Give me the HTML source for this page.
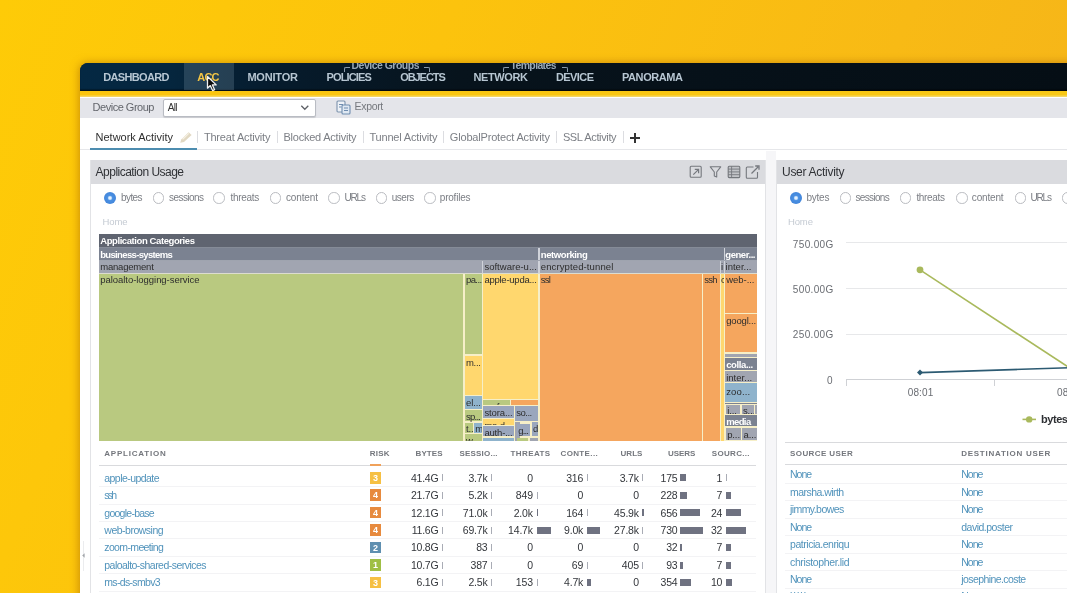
<!DOCTYPE html>
<html><head><meta charset="utf-8"><title>ACC</title>
<style>
html,body{margin:0;padding:0}
body{width:1067px;height:593px;overflow:hidden;position:relative;font-family:"Liberation Sans",sans-serif;
background:linear-gradient(112deg,#fecb07 0%,#fcc30d 35%,#f8ba15 70%,#f4b21c 100%);}
#win{position:absolute;left:80px;top:63px;width:1000px;height:540px;background:linear-gradient(180deg,#05263e 0,#05263e 27px,#fbc50e 27px,#fbc50e 34px,#fff 34px);border-top-left-radius:8px;overflow:hidden;
box-shadow:-1px 0px 9px rgba(160,95,0,.55);}
#page{position:absolute;left:0;top:0;width:1100px;height:620px;overflow:hidden;filter:blur(0.55px)}
.a{position:absolute}
.t{position:absolute;white-space:pre}
.cell{position:absolute;overflow:hidden}
.rad{position:absolute;width:9.4px;height:9.4px;border:1.1px solid #b9bbc0;border-radius:50%;background:#fff;box-sizing:content-box}
.rad.on{border:none;width:12px;height:12px;background:radial-gradient(circle,#e4f2ff 0 1.2px,#4a90e2 2.6px,#3d7fd6 100%)}
.hl{position:absolute;height:1px;background:#e3e4e7}
.bar{position:absolute;height:7px;background:#6f7281}
.bdg{position:absolute;width:11.5px;height:11.5px;color:#fff;font-size:9px;line-height:12px;text-align:center;font-weight:700}
</style></head><body>
<div id="win"></div>
<div id="page">
<div class="a" style="left:80px;top:63px;width:1015px;height:27.7px;border-top-left-radius:8px;background:linear-gradient(90deg,#042843 0px,#05263e 90px,#061b2c 200px,#07131c 380px,#050e15 987px);box-shadow:inset 0 -1.5px 1px rgba(0,0,0,.55)"></div>
<div class="a" style="left:184.00px;top:63.00px;width:50.00px;height:26.50px;background:rgba(125,150,170,.27);"></div>
<div class="a" style="left:80px;top:90.7px;width:1015px;height:6.6px;background:linear-gradient(180deg,rgba(255,255,255,0) 60%,rgba(240,235,200,.55) 100%),linear-gradient(90deg,#fbc50e,#f8c816)"></div>
<div class="a" style="left:344px;top:66.5px;width:5px;height:4px;border-left:1.3px solid #8a9aaa;border-top:1.3px solid #8a9aaa;border-top-left-radius:2px"></div>
<div class="a" style="left:423.5px;top:66.5px;width:5px;height:4px;border-right:1.3px solid #8a9aaa;border-top:1.3px solid #8a9aaa;border-top-right-radius:2px"></div>
<div class="a" style="left:502.5px;top:66.5px;width:5px;height:4px;border-left:1.3px solid #8a9aaa;border-top:1.3px solid #8a9aaa;border-top-left-radius:2px"></div>
<div class="a" style="left:562px;top:66.5px;width:5px;height:4px;border-right:1.3px solid #8a9aaa;border-top:1.3px solid #8a9aaa;border-top-right-radius:2px"></div>
<div class="a" style="left:80.00px;top:97.50px;width:1015.00px;height:20.20px;background:#e4e5ea;"></div>
<div class="a" style="left:162.5px;top:99px;width:151.5px;height:16px;background:#fff;border:1px solid #b9bcc3;border-radius:2px;box-sizing:content-box;box-shadow:0 1px 1px rgba(0,0,0,.12)"></div>
<svg class="a" style="left:299px;top:103px" width="12" height="10" viewBox="0 0 12 10"><path d="M2.3 2.8 L5.8 6.3 L9.3 2.8" fill="none" stroke="#5e6167" stroke-width="1.3"/></svg>
<svg class="a" style="left:335.5px;top:99.5px" width="15" height="15" viewBox="0 0 15 15"><rect x="1" y="1" width="8" height="11" rx="1" fill="#eef2f7" stroke="#7d93ad" stroke-width="1.1"/><rect x="6" y="5" width="8" height="9" rx="1" fill="#dfe8f2" stroke="#6f8db0" stroke-width="1.1"/><path d="M3 4.5h4M3 7h2.5M8 8h4M8 10.5h4" stroke="#6f8db0" stroke-width="1"/></svg>
<div class="a" style="left:80.00px;top:149.30px;width:1015.00px;height:1.00px;background:#e6e7ea;"></div>
<div class="a" style="left:90.00px;top:148.00px;width:106.60px;height:2.40px;background:#4d8db0;"></div>
<div class="a" style="left:196.90px;top:131.30px;width:1.00px;height:11.90px;background:#dcdde1;"></div>
<div class="a" style="left:276.70px;top:131.30px;width:1.00px;height:11.90px;background:#dcdde1;"></div>
<div class="a" style="left:362.80px;top:131.30px;width:1.00px;height:11.90px;background:#dcdde1;"></div>
<div class="a" style="left:443.30px;top:131.30px;width:1.00px;height:11.90px;background:#dcdde1;"></div>
<div class="a" style="left:556.10px;top:131.30px;width:1.00px;height:11.90px;background:#dcdde1;"></div>
<div class="a" style="left:623.00px;top:131.30px;width:1.00px;height:11.90px;background:#dcdde1;"></div>
<div class="a" style="left:629.50px;top:137.20px;width:10.50px;height:1.50px;background:#333;"></div>
<div class="a" style="left:634.00px;top:132.80px;width:1.50px;height:10.20px;background:#333;"></div>
<svg class="a" style="left:178.5px;top:130.5px" width="14" height="13" viewBox="0 0 14 13"><path d="M1.2 11.8 L2.2 8.4 L9.6 1.2 L12.6 4 L5 11 Z" fill="#e1d8c2"/><path d="M3.6 8.2 L9.8 2.4" stroke="#f6f1e4" stroke-width="1.2"/></svg>
<div class="a" style="left:90.00px;top:160.00px;width:675.70px;height:23.50px;background:#dadbdf;"></div>
<div class="a" style="left:90.00px;top:160.00px;width:1.00px;height:455.00px;background:#e2e3e6;"></div>
<div class="a" style="left:764.70px;top:160.00px;width:1.00px;height:455.00px;background:#e2e3e6;"></div>
<svg class="a" style="left:688.5px;top:165px" width="14" height="14" viewBox="0 0 14 14"><rect x="1.2" y="1.2" width="11" height="11" rx="1" fill="none" stroke="#75787e" stroke-width="1.1"/><path d="M4.3 9.7 L9.4 4.6 M5.8 4.4 H9.6 V8.2" fill="none" stroke="#75787e" stroke-width="1.2"/></svg>
<svg class="a" style="left:708.5px;top:165px" width="13" height="14" viewBox="0 0 13 14"><path d="M1.3 1.8 H11.7 L7.7 7 V12 L5.3 11 V7 Z" fill="none" stroke="#75787e" stroke-width="1.1" stroke-linejoin="round"/></svg>
<svg class="a" style="left:727px;top:165px" width="14" height="14" viewBox="0 0 14 14"><rect x="1.2" y="1.2" width="11.6" height="11.4" rx="1" fill="none" stroke="#75787e" stroke-width="1.1"/><rect x="1.2" y="1.2" width="11.6" height="11.4" fill="rgba(110,113,120,.22)"/><path d="M4.6 1.2V12.6 M1.2 4.1H12.8 M1.2 6.9H12.8 M1.2 9.7H12.8" stroke="#75787e" stroke-width="0.9"/></svg>
<svg class="a" style="left:745px;top:163.5px" width="16" height="16" viewBox="0 0 16 16"><path d="M8.5 3 H2.3 Q1.3 3 1.3 4 V13.2 Q1.3 14.2 2.3 14.2 H11.5 Q12.5 14.2 12.5 13.2 V8" fill="none" stroke="#75787e" stroke-width="1.1"/><path d="M6.5 9.5 L13 3 M10.2 2 H14 V5.8" fill="none" stroke="#75787e" stroke-width="1.3"/></svg>
<div class="rad on" style="left:104.0px;top:192.1px"></div>
<div class="rad" style="left:152.8px;top:192.3px"></div>
<div class="rad" style="left:213.4px;top:192.3px"></div>
<div class="rad" style="left:269.8px;top:192.3px"></div>
<div class="rad" style="left:328.2px;top:192.3px"></div>
<div class="rad" style="left:375.7px;top:192.3px"></div>
<div class="rad" style="left:424.2px;top:192.3px"></div>
<div class="a" style="left:99.00px;top:234.30px;width:658.00px;height:38.90px;background:#d0d3da;"></div>
<div class="a" style="left:99.00px;top:273.20px;width:658.00px;height:168.10px;background:#f6efc8;"></div>
<div class="cell" style="left:99.00px;top:234.30px;width:658.00px;height:12.70px;background:#5f6470"></div>
<div class="cell" style="left:99.00px;top:247.90px;width:439.20px;height:11.70px;background:#7b8291"></div>
<div class="cell" style="left:539.60px;top:247.90px;width:184.20px;height:11.70px;background:#7b8291"></div>
<div class="cell" style="left:725.00px;top:247.90px;width:32.00px;height:11.70px;background:#7b8291"></div>
<div class="cell" style="left:99.00px;top:260.50px;width:382.80px;height:12.10px;background:#a1a5b1"></div>
<div class="cell" style="left:483.20px;top:260.50px;width:55.00px;height:12.10px;background:#a1a5b1"></div>
<div class="cell" style="left:539.60px;top:260.50px;width:180.00px;height:12.10px;background:#a1a5b1"></div>
<div class="cell" style="left:720.80px;top:260.50px;width:3.00px;height:12.10px;background:#a1a5b1"><span style="position:absolute;left:0.2px;top:-0.4px;font-size:9.5px;line-height:14px;color:#2d2d2d;font-weight:400;white-space:pre;letter-spacing:-0.12px">i</span></div>
<div class="cell" style="left:725.00px;top:260.50px;width:32.00px;height:12.10px;background:#a1a5b1"></div>
<div class="a" style="left:99.00px;top:247.00px;width:658.00px;height:0.90px;background:#858b97;"></div>
<div class="a" style="left:99.00px;top:259.60px;width:658.00px;height:0.90px;background:#9fa4af;"></div>
<div class="a" style="left:99.00px;top:272.60px;width:658.00px;height:1.00px;background:#dcdccf;"></div>
<div class="cell" style="left:99.00px;top:273.60px;width:364.40px;height:167.70px;background:#b9c980"></div>
<div class="cell" style="left:464.80px;top:273.60px;width:17.00px;height:80.80px;background:#b9c980"></div>
<div class="cell" style="left:464.80px;top:355.80px;width:17.00px;height:38.80px;background:#ffd76e"></div>
<div class="cell" style="left:464.80px;top:396.00px;width:17.00px;height:12.60px;background:#8fb3cc"></div>
<div class="cell" style="left:464.80px;top:410.00px;width:17.00px;height:11.20px;background:#b9c980"></div>
<div class="cell" style="left:464.80px;top:422.60px;width:7.80px;height:10.40px;background:#b9c980"><span style="position:absolute;left:1.2px;top:-0.4px;font-size:9.5px;line-height:14px;color:#2d2d2d;font-weight:400;white-space:pre;letter-spacing:-0.12px">t..</span></div>
<div class="cell" style="left:474.00px;top:422.60px;width:7.80px;height:10.40px;background:#8fb3cc"><span style="position:absolute;left:1.2px;top:-0.4px;font-size:9.5px;line-height:14px;color:#2d2d2d;font-weight:400;white-space:pre;letter-spacing:-0.12px">m</span></div>
<div class="cell" style="left:464.80px;top:434.40px;width:17.00px;height:6.90px;background:#b9c980"><span style="position:absolute;left:1.2px;top:-0.4px;font-size:9.5px;line-height:14px;color:#2d2d2d;font-weight:400;white-space:pre;letter-spacing:-0.12px">w...</span></div>
<div class="cell" style="left:483.20px;top:273.60px;width:55.00px;height:125.00px;background:#ffd76e"></div>
<div class="cell" style="left:483.20px;top:400.00px;width:26.80px;height:5.00px;background:#b9c980"><span style="position:absolute;left:1.2px;top:-0.4px;font-size:9.5px;line-height:14px;color:#2d2d2d;font-weight:400;white-space:pre;letter-spacing:-0.12px">msfe</span></div>
<div class="cell" style="left:511.40px;top:400.00px;width:26.80px;height:5.00px;background:#f5a65e"><span style="position:absolute;left:1.2px;top:-0.4px;font-size:9.5px;line-height:14px;color:#2d2d2d;font-weight:400;white-space:pre;letter-spacing:-0.12px">ms-</span></div>
<div class="cell" style="left:483.20px;top:406.40px;width:30.40px;height:11.60px;background:#9aa6bd"></div>
<div class="cell" style="left:515.00px;top:406.40px;width:23.20px;height:14.20px;background:#9aa6bd"></div>
<div class="cell" style="left:483.20px;top:419.40px;width:30.40px;height:5.20px;background:#ffd76e"><span style="position:absolute;left:1.2px;top:-0.4px;font-size:9.5px;line-height:14px;color:#2d2d2d;font-weight:400;white-space:pre;letter-spacing:-0.12px">ms-d</span></div>
<div class="cell" style="left:483.20px;top:426.00px;width:30.40px;height:10.40px;background:#9aa6bd"></div>
<div class="cell" style="left:515.00px;top:422.00px;width:5.00px;height:19.30px;background:#a1a5b1"></div>
<div class="cell" style="left:517.00px;top:424.40px;width:13.40px;height:12.00px;background:#9aa6bd"></div>
<div class="cell" style="left:531.80px;top:422.00px;width:6.40px;height:14.40px;background:#9aa6bd"><span style="position:absolute;left:1.2px;top:-0.4px;font-size:9.5px;line-height:14px;color:#2d2d2d;font-weight:400;white-space:pre;letter-spacing:-0.12px">d</span></div>
<div class="cell" style="left:517.00px;top:437.80px;width:11.40px;height:3.50px;background:#b9c980"><span style="position:absolute;left:1.2px;top:-0.4px;font-size:9.5px;line-height:14px;color:#2d2d2d;font-weight:400;white-space:pre;letter-spacing:-0.12px">n</span></div>
<div class="cell" style="left:529.80px;top:437.80px;width:8.40px;height:3.50px;background:#a1a5b1"></div>
<div class="cell" style="left:483.20px;top:437.80px;width:30.40px;height:3.50px;background:#8fb3cc"><span style="position:absolute;left:1.2px;top:-0.4px;font-size:9.5px;line-height:14px;color:#2d2d2d;font-weight:400;white-space:pre;letter-spacing:-0.12px">v</span></div>
<div class="cell" style="left:539.60px;top:273.60px;width:162.00px;height:167.70px;background:#f5a65e"></div>
<div class="cell" style="left:703.00px;top:273.60px;width:16.60px;height:167.70px;background:#f5a65e"></div>
<div class="cell" style="left:720.80px;top:273.60px;width:3.00px;height:167.70px;background:#ffd76e"><span style="position:absolute;left:0.2px;top:-0.4px;font-size:9.5px;line-height:14px;color:#2d2d2d;font-weight:400;white-space:pre;letter-spacing:-0.12px">c</span></div>
<div class="cell" style="left:725.00px;top:273.60px;width:32.00px;height:39.00px;background:#f5a65e"></div>
<div class="cell" style="left:725.00px;top:314.00px;width:32.00px;height:38.20px;background:#f5a65e"></div>
<div class="cell" style="left:725.00px;top:353.60px;width:32.00px;height:3.60px;background:#a1a5b1"></div>
<div class="cell" style="left:725.00px;top:358.40px;width:32.00px;height:11.40px;background:#7b8291"></div>
<div class="cell" style="left:725.00px;top:371.00px;width:32.00px;height:11.00px;background:#a1a5b1"></div>
<div class="cell" style="left:725.00px;top:383.40px;width:32.00px;height:18.20px;background:#8fb3cc"></div>
<div class="cell" style="left:725.00px;top:402.80px;width:32.00px;height:1.20px;background:#7b8291"></div>
<div class="cell" style="left:726.00px;top:404.60px;width:14.40px;height:9.00px;background:#a1a5b1"><span style="position:absolute;left:1.2px;top:-0.4px;font-size:9.5px;line-height:14px;color:#2d2d2d;font-weight:400;white-space:pre;letter-spacing:-0.12px">i...</span></div>
<div class="cell" style="left:741.80px;top:404.60px;width:12.20px;height:9.00px;background:#a1a5b1"><span style="position:absolute;left:1.2px;top:-0.4px;font-size:9.5px;line-height:14px;color:#2d2d2d;font-weight:400;white-space:pre;letter-spacing:-0.12px">s...</span></div>
<div class="cell" style="left:755.20px;top:404.60px;width:1.80px;height:9.00px;background:#a1a5b1"></div>
<div class="cell" style="left:725.00px;top:415.00px;width:32.00px;height:11.00px;background:#7b8291"></div>
<div class="cell" style="left:726.00px;top:428.00px;width:15.00px;height:12.40px;background:#a1a5b1"><span style="position:absolute;left:1.2px;top:-0.4px;font-size:9.5px;line-height:14px;color:#2d2d2d;font-weight:400;white-space:pre;letter-spacing:-0.12px">p...</span></div>
<div class="cell" style="left:742.40px;top:428.00px;width:14.60px;height:12.40px;background:#a1a5b1"><span style="position:absolute;left:1.2px;top:-0.4px;font-size:9.5px;line-height:14px;color:#2d2d2d;font-weight:400;white-space:pre;letter-spacing:-0.12px">a...</span></div>
<div class="a" style="left:99.00px;top:464.60px;width:657.00px;height:1.20px;background:#d9dadd;"></div>
<div class="a" style="left:369.80px;top:464.20px;width:11.60px;height:1.80px;background:#f0a15a;"></div>
<div class="bdg" style="left:369.8px;top:472.0px;background:#f6c043">3</div>
<div class="a" style="left:442.30px;top:474.40px;width:1.00px;height:7.00px;background:#a9acb5;"></div>
<div class="a" style="left:491.30px;top:474.40px;width:1.00px;height:7.00px;background:#a9acb5;"></div>
<div class="a" style="left:587.10px;top:474.40px;width:1.00px;height:7.00px;background:#a9acb5;"></div>
<div class="a" style="left:642.40px;top:474.40px;width:1.00px;height:7.00px;background:#a9acb5;"></div>
<div class="a" style="left:680.30px;top:474.40px;width:5.70px;height:7.00px;background:#6f7281;"></div>
<div class="a" style="left:725.50px;top:474.40px;width:1.00px;height:7.00px;background:#a9acb5;"></div>
<div class="a" style="left:99.00px;top:486.20px;width:657.00px;height:1.00px;background:#f3f3f5;"></div>
<div class="bdg" style="left:369.8px;top:489.4px;background:#e78a3e">4</div>
<div class="a" style="left:442.30px;top:491.83px;width:1.00px;height:7.00px;background:#a9acb5;"></div>
<div class="a" style="left:491.30px;top:491.83px;width:1.00px;height:7.00px;background:#a9acb5;"></div>
<div class="a" style="left:536.80px;top:491.83px;width:1.00px;height:7.00px;background:#a9acb5;"></div>
<div class="a" style="left:680.30px;top:491.83px;width:7.20px;height:7.00px;background:#6f7281;"></div>
<div class="a" style="left:725.50px;top:491.83px;width:5.20px;height:7.00px;background:#6f7281;"></div>
<div class="a" style="left:99.00px;top:503.63px;width:657.00px;height:1.00px;background:#f3f3f5;"></div>
<div class="bdg" style="left:369.8px;top:506.9px;background:#e78a3e">4</div>
<div class="a" style="left:442.30px;top:509.26px;width:1.00px;height:7.00px;background:#a9acb5;"></div>
<div class="a" style="left:491.30px;top:509.26px;width:1.00px;height:7.00px;background:#a9acb5;"></div>
<div class="a" style="left:536.80px;top:509.26px;width:1.60px;height:7.00px;background:#6f7281;"></div>
<div class="a" style="left:587.10px;top:509.26px;width:1.00px;height:7.00px;background:#a9acb5;"></div>
<div class="a" style="left:642.40px;top:509.26px;width:1.40px;height:7.00px;background:#6f7281;"></div>
<div class="a" style="left:680.30px;top:509.26px;width:19.90px;height:7.00px;background:#6f7281;"></div>
<div class="a" style="left:725.50px;top:509.26px;width:15.00px;height:7.00px;background:#6f7281;"></div>
<div class="a" style="left:99.00px;top:521.06px;width:657.00px;height:1.00px;background:#f3f3f5;"></div>
<div class="bdg" style="left:369.8px;top:524.3px;background:#e78a3e">4</div>
<div class="a" style="left:442.30px;top:526.69px;width:1.00px;height:7.00px;background:#a9acb5;"></div>
<div class="a" style="left:491.30px;top:526.69px;width:1.00px;height:7.00px;background:#a9acb5;"></div>
<div class="a" style="left:536.80px;top:526.69px;width:14.30px;height:7.00px;background:#6f7281;"></div>
<div class="a" style="left:587.10px;top:526.69px;width:12.70px;height:7.00px;background:#6f7281;"></div>
<div class="a" style="left:642.40px;top:526.69px;width:1.00px;height:7.00px;background:#a9acb5;"></div>
<div class="a" style="left:680.30px;top:526.69px;width:22.50px;height:7.00px;background:#6f7281;"></div>
<div class="a" style="left:725.50px;top:526.69px;width:20.00px;height:7.00px;background:#6f7281;"></div>
<div class="a" style="left:99.00px;top:538.49px;width:657.00px;height:1.00px;background:#f3f3f5;"></div>
<div class="bdg" style="left:369.8px;top:541.7px;background:#5f8fb0">2</div>
<div class="a" style="left:442.30px;top:544.12px;width:1.00px;height:7.00px;background:#a9acb5;"></div>
<div class="a" style="left:491.30px;top:544.12px;width:1.00px;height:7.00px;background:#a9acb5;"></div>
<div class="a" style="left:680.30px;top:544.12px;width:1.40px;height:7.00px;background:#6f7281;"></div>
<div class="a" style="left:725.50px;top:544.12px;width:5.20px;height:7.00px;background:#6f7281;"></div>
<div class="a" style="left:99.00px;top:555.92px;width:657.00px;height:1.00px;background:#f3f3f5;"></div>
<div class="bdg" style="left:369.8px;top:559.1px;background:#9fbf45">1</div>
<div class="a" style="left:442.30px;top:561.55px;width:1.00px;height:7.00px;background:#a9acb5;"></div>
<div class="a" style="left:491.30px;top:561.55px;width:1.00px;height:7.00px;background:#a9acb5;"></div>
<div class="a" style="left:587.10px;top:561.55px;width:1.00px;height:7.00px;background:#a9acb5;"></div>
<div class="a" style="left:642.40px;top:561.55px;width:1.00px;height:7.00px;background:#a9acb5;"></div>
<div class="a" style="left:680.30px;top:561.55px;width:2.60px;height:7.00px;background:#6f7281;"></div>
<div class="a" style="left:725.50px;top:561.55px;width:5.20px;height:7.00px;background:#6f7281;"></div>
<div class="a" style="left:99.00px;top:573.35px;width:657.00px;height:1.00px;background:#f3f3f5;"></div>
<div class="bdg" style="left:369.8px;top:576.6px;background:#f6c043">3</div>
<div class="a" style="left:442.30px;top:578.98px;width:1.00px;height:7.00px;background:#a9acb5;"></div>
<div class="a" style="left:491.30px;top:578.98px;width:1.00px;height:7.00px;background:#a9acb5;"></div>
<div class="a" style="left:536.80px;top:578.98px;width:1.00px;height:7.00px;background:#a9acb5;"></div>
<div class="a" style="left:587.10px;top:578.98px;width:4.00px;height:7.00px;background:#6f7281;"></div>
<div class="a" style="left:680.30px;top:578.98px;width:10.80px;height:7.00px;background:#6f7281;"></div>
<div class="a" style="left:725.50px;top:578.98px;width:6.50px;height:7.00px;background:#6f7281;"></div>
<div class="a" style="left:99.00px;top:590.78px;width:657.00px;height:1.00px;background:#f3f3f5;"></div>
<div class="a" style="left:775.60px;top:160.00px;width:319.40px;height:23.50px;background:#dadbdf;"></div>
<div class="a" style="left:775.60px;top:160.00px;width:1.00px;height:455.00px;background:#e2e3e6;"></div>
<div class="a" style="left:765.70px;top:151.00px;width:9.90px;height:464.00px;background:#f6f6f8;"></div>
<div class="rad on" style="left:790.2px;top:192.1px"></div>
<div class="rad" style="left:839.8px;top:192.3px"></div>
<div class="rad" style="left:899.8px;top:192.3px"></div>
<div class="rad" style="left:956.2px;top:192.3px"></div>
<div class="rad" style="left:1014.7px;top:192.3px"></div>
<div class="rad" style="left:1061.7px;top:192.3px"></div>
<div class="a" style="left:846.00px;top:242.40px;width:249.00px;height:1.00px;background:#e7e8ea;"></div>
<div class="a" style="left:846.00px;top:287.80px;width:249.00px;height:1.00px;background:#e7e8ea;"></div>
<div class="a" style="left:846.00px;top:333.60px;width:249.00px;height:1.00px;background:#e7e8ea;"></div>
<div class="a" style="left:846.00px;top:379.00px;width:249.00px;height:1.00px;background:#cfd1d5;"></div>
<div class="a" style="left:846.00px;top:379.00px;width:1.00px;height:6.50px;background:#cfd1d5;"></div>
<div class="a" style="left:994.20px;top:379.00px;width:1.00px;height:6.50px;background:#cfd1d5;"></div>
<svg class="a" style="left:846px;top:230px" width="240" height="200" viewBox="846 230 240 200"><path d="M920 372.6 L1089 367.15" stroke="#2c5a72" stroke-width="1.6" fill="none"/><path d="M920 269.8 L1089 380.7" stroke="#a9b95c" stroke-width="1.6" fill="none"/><circle cx="920" cy="269.8" r="3.4" fill="#a9b95c"/><path d="M920 369.6 L923 372.6 L920 375.6 L917 372.6Z" fill="#2c5a72"/><path d="M1022.5 419.4 H1036" stroke="#a9b95c" stroke-width="1.6"/><circle cx="1029.2" cy="419.4" r="3.2" fill="#a9b95c"/></svg>
<div class="a" style="left:784.50px;top:441.60px;width:310.50px;height:1.20px;background:#d9dadd;"></div>
<div class="a" style="left:784.50px;top:464.20px;width:310.50px;height:1.20px;background:#d9dadd;"></div>
<div class="a" style="left:784.50px;top:483.00px;width:310.50px;height:1.00px;background:#f3f3f5;"></div>
<div class="a" style="left:784.50px;top:500.43px;width:310.50px;height:1.00px;background:#f3f3f5;"></div>
<div class="a" style="left:784.50px;top:517.86px;width:310.50px;height:1.00px;background:#f3f3f5;"></div>
<div class="a" style="left:784.50px;top:535.29px;width:310.50px;height:1.00px;background:#f3f3f5;"></div>
<div class="a" style="left:784.50px;top:552.72px;width:310.50px;height:1.00px;background:#f3f3f5;"></div>
<div class="a" style="left:784.50px;top:570.15px;width:310.50px;height:1.00px;background:#f3f3f5;"></div>
<div class="a" style="left:784.50px;top:587.58px;width:310.50px;height:1.00px;background:#f3f3f5;"></div>
<div class="a" style="left:784.50px;top:605.01px;width:310.50px;height:1.00px;background:#f3f3f5;"></div>
<div class="a" style="left:82.50px;top:541.00px;width:1.00px;height:30.00px;background:#ebecee;"></div>
<svg class="a" style="left:80.5px;top:552px" width="5" height="7" viewBox="0 0 5 7"><path d="M3.6 1.2 L1.2 3.5 L3.6 5.8Z" fill="#a2a5aa"/></svg>
<span class="t" style="left:103.20px;top:69.80px;font-size:11px;line-height:15px;letter-spacing:-0.650px;color:#b7c6d2;font-weight:700;">DASHBOARD</span>
<span class="t" style="left:197.30px;top:69.80px;font-size:11px;line-height:15px;letter-spacing:-0.822px;color:#f3c544;font-weight:700;">ACC</span>
<span class="t" style="left:247.40px;top:69.80px;font-size:11px;line-height:15px;letter-spacing:-0.192px;color:#b7c6d2;font-weight:700;">MONITOR</span>
<span class="t" style="left:326.50px;top:69.80px;font-size:11px;line-height:15px;letter-spacing:-0.863px;color:#b7c6d2;font-weight:700;">POLICIES</span>
<span class="t" style="left:400.20px;top:69.80px;font-size:11px;line-height:15px;letter-spacing:-1.061px;color:#b7c6d2;font-weight:700;">OBJECTS</span>
<span class="t" style="left:473.50px;top:69.80px;font-size:11px;line-height:15px;letter-spacing:-0.388px;color:#b7c6d2;font-weight:700;">NETWORK</span>
<span class="t" style="left:556.00px;top:69.80px;font-size:11px;line-height:15px;letter-spacing:-0.594px;color:#b7c6d2;font-weight:700;">DEVICE</span>
<span class="t" style="left:622.00px;top:69.80px;font-size:11px;line-height:15px;letter-spacing:-0.424px;color:#b7c6d2;font-weight:700;">PANORAMA</span>
<span class="t" style="left:351.50px;top:57.95px;font-size:10.5px;line-height:14.5px;letter-spacing:-0.510px;color:#98a7b6;font-weight:700;clip-path:inset(5.1px 0 0 0);">Device Groups</span>
<span class="t" style="left:510.50px;top:57.95px;font-size:10.5px;line-height:14.5px;letter-spacing:-0.646px;color:#98a7b6;font-weight:700;clip-path:inset(5.1px 0 0 0);">Templates</span>
<span class="t" style="left:92.60px;top:100.10px;font-size:11px;line-height:15px;letter-spacing:-0.488px;color:#63666c;">Device Group</span>
<span class="t" style="left:167.80px;top:100.60px;font-size:10px;line-height:14px;letter-spacing:-0.663px;color:#333;">All</span>
<span class="t" style="left:354.60px;top:99.35px;font-size:10.5px;line-height:14.5px;letter-spacing:-0.332px;color:#75787e;">Export</span>
<span class="t" style="left:95.60px;top:130.00px;font-size:11px;line-height:15px;letter-spacing:-0.016px;color:#2f2f2f;">Network Activity</span>
<span class="t" style="left:203.90px;top:130.00px;font-size:11px;line-height:15px;letter-spacing:-0.177px;color:#7c7f85;">Threat Activity</span>
<span class="t" style="left:283.40px;top:130.00px;font-size:11px;line-height:15px;letter-spacing:-0.221px;color:#7c7f85;">Blocked Activity</span>
<span class="t" style="left:369.40px;top:130.00px;font-size:11px;line-height:15px;letter-spacing:-0.173px;color:#7c7f85;">Tunnel Activity</span>
<span class="t" style="left:449.80px;top:130.00px;font-size:11px;line-height:15px;letter-spacing:-0.178px;color:#7c7f85;">GlobalProtect Activity</span>
<span class="t" style="left:562.90px;top:130.00px;font-size:11px;line-height:15px;letter-spacing:-0.361px;color:#7c7f85;">SSL Activity</span>
<span class="t" style="left:95.60px;top:164.00px;font-size:12px;line-height:16px;letter-spacing:-0.521px;color:#303236;">Application Usage</span>
<span class="t" style="left:121.00px;top:191.40px;font-size:10px;line-height:14px;letter-spacing:-0.577px;color:#7b7e84;">bytes</span>
<span class="t" style="left:169.00px;top:191.40px;font-size:10px;line-height:14px;letter-spacing:-0.558px;color:#7b7e84;">sessions</span>
<span class="t" style="left:230.50px;top:191.40px;font-size:10px;line-height:14px;letter-spacing:-0.296px;color:#7b7e84;">threats</span>
<span class="t" style="left:286.00px;top:191.40px;font-size:10px;line-height:14px;letter-spacing:-0.135px;color:#7b7e84;">content</span>
<span class="t" style="left:344.50px;top:191.40px;font-size:10px;line-height:14px;letter-spacing:-1.172px;color:#7b7e84;">URLs</span>
<span class="t" style="left:391.80px;top:191.40px;font-size:10px;line-height:14px;letter-spacing:-0.513px;color:#7b7e84;">users</span>
<span class="t" style="left:439.80px;top:191.40px;font-size:10px;line-height:14px;letter-spacing:-0.221px;color:#7b7e84;">profiles</span>
<span class="t" style="left:102.40px;top:215.05px;font-size:9.5px;line-height:13.5px;letter-spacing:-0.048px;color:#c5cbd3;">Home</span>
<span class="t" style="left:100.20px;top:234.15px;font-size:9.5px;line-height:13.5px;letter-spacing:-0.413px;color:#fff;font-weight:700;">Application Categories</span>
<span class="t" style="left:100.20px;top:247.75px;font-size:9.5px;line-height:13.5px;letter-spacing:-0.652px;color:#fff;font-weight:700;">business-systems</span>
<span class="t" style="left:540.80px;top:247.75px;font-size:9.5px;line-height:13.5px;letter-spacing:-0.419px;color:#fff;font-weight:700;">networking</span>
<span class="t" style="left:725.30px;top:247.75px;font-size:9.5px;line-height:13.5px;letter-spacing:-0.438px;color:#fff;font-weight:700;">gener...</span>
<span class="t" style="left:100.20px;top:260.35px;font-size:9.5px;line-height:13.5px;letter-spacing:-0.206px;color:#2d2d2d;">management</span>
<span class="t" style="left:484.40px;top:260.35px;font-size:9.5px;line-height:13.5px;letter-spacing:0.018px;color:#2d2d2d;">software-u...</span>
<span class="t" style="left:540.80px;top:260.35px;font-size:9.5px;line-height:13.5px;letter-spacing:0.115px;color:#2d2d2d;">encrypted-tunnel</span>
<span class="t" style="left:725.50px;top:260.35px;font-size:9.5px;line-height:13.5px;letter-spacing:0.018px;color:#2d2d2d;">inter...</span>
<span class="t" style="left:100.20px;top:273.45px;font-size:9.5px;line-height:13.5px;letter-spacing:-0.041px;color:#2d2d2d;">paloalto-logging-service</span>
<span class="t" style="left:466.00px;top:273.45px;font-size:9.5px;line-height:13.5px;letter-spacing:-0.600px;color:#2d2d2d;">pa...</span>
<span class="t" style="left:466.00px;top:355.65px;font-size:9.5px;line-height:13.5px;letter-spacing:-0.315px;color:#2d2d2d;">m...</span>
<span class="t" style="left:466.00px;top:395.85px;font-size:9.5px;line-height:13.5px;letter-spacing:-0.078px;color:#2d2d2d;">el...</span>
<span class="t" style="left:466.00px;top:409.85px;font-size:9.5px;line-height:13.5px;letter-spacing:-0.738px;color:#2d2d2d;">sp...</span>
<span class="t" style="left:484.40px;top:273.45px;font-size:9.5px;line-height:13.5px;letter-spacing:-0.247px;color:#2d2d2d;">apple-upda...</span>
<span class="t" style="left:484.40px;top:406.25px;font-size:9.5px;line-height:13.5px;letter-spacing:-0.107px;color:#2d2d2d;">stora...</span>
<span class="t" style="left:516.20px;top:406.25px;font-size:9.5px;line-height:13.5px;letter-spacing:-0.488px;color:#2d2d2d;">so...</span>
<span class="t" style="left:484.40px;top:425.85px;font-size:9.5px;line-height:13.5px;letter-spacing:-0.183px;color:#2d2d2d;">auth-...</span>
<span class="t" style="left:518.20px;top:424.25px;font-size:9.5px;line-height:13.5px;letter-spacing:-0.801px;color:#2d2d2d;">g...</span>
<span class="t" style="left:540.80px;top:273.45px;font-size:9.5px;line-height:13.5px;letter-spacing:-0.762px;color:#2d2d2d;">ssl</span>
<span class="t" style="left:704.20px;top:273.45px;font-size:9.5px;line-height:13.5px;letter-spacing:-0.748px;color:#2d2d2d;">ssh</span>
<span class="t" style="left:726.20px;top:273.45px;font-size:9.5px;line-height:13.5px;letter-spacing:-0.036px;color:#2d2d2d;">web-...</span>
<span class="t" style="left:726.20px;top:313.85px;font-size:9.5px;line-height:13.5px;letter-spacing:-0.167px;color:#2d2d2d;">googl...</span>
<span class="t" style="left:726.20px;top:358.25px;font-size:9.5px;line-height:13.5px;letter-spacing:-0.368px;color:#fff;font-weight:700;">colla...</span>
<span class="t" style="left:726.20px;top:370.85px;font-size:9.5px;line-height:13.5px;letter-spacing:0.018px;color:#2d2d2d;">inter...</span>
<span class="t" style="left:726.20px;top:385.45px;font-size:9.5px;line-height:13.5px;letter-spacing:0.150px;color:#2d2d2d;">zoo...</span>
<span class="t" style="left:726.20px;top:414.85px;font-size:9.5px;line-height:13.5px;letter-spacing:-0.617px;color:#fff;font-weight:700;">media</span>
<span class="t" style="left:104.30px;top:448.10px;font-size:8px;line-height:12px;letter-spacing:0.786px;color:#74777d;font-weight:700;">APPLICATION</span>
<span class="t" style="left:369.80px;top:448.10px;font-size:8px;line-height:12px;letter-spacing:0.225px;color:#74777d;font-weight:700;">RISK</span>
<span class="t" style="left:415.50px;top:448.10px;font-size:8px;line-height:12px;letter-spacing:0.107px;color:#74777d;font-weight:700;">BYTES</span>
<span class="t" style="left:459.40px;top:448.10px;font-size:8px;line-height:12px;letter-spacing:0.216px;color:#74777d;font-weight:700;">SESSIO...</span>
<span class="t" style="left:510.50px;top:448.10px;font-size:8px;line-height:12px;letter-spacing:0.419px;color:#74777d;font-weight:700;">THREATS</span>
<span class="t" style="left:560.50px;top:448.10px;font-size:8px;line-height:12px;letter-spacing:0.361px;color:#74777d;font-weight:700;">CONTE...</span>
<span class="t" style="left:620.50px;top:448.10px;font-size:8px;line-height:12px;letter-spacing:0.040px;color:#74777d;font-weight:700;">URLS</span>
<span class="t" style="left:667.90px;top:448.10px;font-size:8px;line-height:12px;letter-spacing:-0.041px;color:#74777d;font-weight:700;">USERS</span>
<span class="t" style="left:711.80px;top:448.10px;font-size:8px;line-height:12px;letter-spacing:0.320px;color:#74777d;font-weight:700;">SOURC...</span>
<span class="t" style="left:104.30px;top:470.75px;font-size:10.5px;line-height:14.5px;letter-spacing:-0.556px;color:#5193bb;">apple-update</span>
<span class="t" style="left:410.89px;top:470.75px;font-size:10.5px;line-height:14.5px;letter-spacing:-0.200px;color:#33363b;">41.4G</span>
<span class="t" style="left:468.44px;top:470.75px;font-size:10.5px;line-height:14.5px;letter-spacing:-0.200px;color:#33363b;">3.7k</span>
<span class="t" style="left:527.16px;top:470.75px;font-size:10.5px;line-height:14.5px;letter-spacing:-0.200px;color:#33363b;">0</span>
<span class="t" style="left:566.17px;top:470.75px;font-size:10.5px;line-height:14.5px;letter-spacing:-0.200px;color:#33363b;">316</span>
<span class="t" style="left:619.74px;top:470.75px;font-size:10.5px;line-height:14.5px;letter-spacing:-0.200px;color:#33363b;">3.7k</span>
<span class="t" style="left:660.57px;top:470.75px;font-size:10.5px;line-height:14.5px;letter-spacing:-0.200px;color:#33363b;">175</span>
<span class="t" style="left:716.56px;top:470.75px;font-size:10.5px;line-height:14.5px;letter-spacing:-0.200px;color:#33363b;">1</span>
<span class="t" style="left:104.30px;top:488.18px;font-size:10.5px;line-height:14.5px;letter-spacing:-1.822px;color:#5193bb;">ssh</span>
<span class="t" style="left:410.89px;top:488.18px;font-size:10.5px;line-height:14.5px;letter-spacing:-0.200px;color:#33363b;">21.7G</span>
<span class="t" style="left:468.44px;top:488.18px;font-size:10.5px;line-height:14.5px;letter-spacing:-0.200px;color:#33363b;">5.2k</span>
<span class="t" style="left:515.87px;top:488.18px;font-size:10.5px;line-height:14.5px;letter-spacing:-0.200px;color:#33363b;">849</span>
<span class="t" style="left:577.46px;top:488.18px;font-size:10.5px;line-height:14.5px;letter-spacing:-0.200px;color:#33363b;">0</span>
<span class="t" style="left:633.16px;top:488.18px;font-size:10.5px;line-height:14.5px;letter-spacing:-0.200px;color:#33363b;">0</span>
<span class="t" style="left:660.57px;top:488.18px;font-size:10.5px;line-height:14.5px;letter-spacing:-0.200px;color:#33363b;">228</span>
<span class="t" style="left:716.56px;top:488.18px;font-size:10.5px;line-height:14.5px;letter-spacing:-0.200px;color:#33363b;">7</span>
<span class="t" style="left:104.30px;top:505.61px;font-size:10.5px;line-height:14.5px;letter-spacing:-0.740px;color:#5193bb;">google-base</span>
<span class="t" style="left:410.89px;top:505.61px;font-size:10.5px;line-height:14.5px;letter-spacing:-0.200px;color:#33363b;">12.1G</span>
<span class="t" style="left:462.81px;top:505.61px;font-size:10.5px;line-height:14.5px;letter-spacing:-0.200px;color:#33363b;">71.0k</span>
<span class="t" style="left:513.74px;top:505.61px;font-size:10.5px;line-height:14.5px;letter-spacing:-0.200px;color:#33363b;">2.0k</span>
<span class="t" style="left:566.17px;top:505.61px;font-size:10.5px;line-height:14.5px;letter-spacing:-0.200px;color:#33363b;">164</span>
<span class="t" style="left:614.11px;top:505.61px;font-size:10.5px;line-height:14.5px;letter-spacing:-0.200px;color:#33363b;">45.9k</span>
<span class="t" style="left:660.57px;top:505.61px;font-size:10.5px;line-height:14.5px;letter-spacing:-0.200px;color:#33363b;">656</span>
<span class="t" style="left:710.91px;top:505.61px;font-size:10.5px;line-height:14.5px;letter-spacing:-0.200px;color:#33363b;">24</span>
<span class="t" style="left:104.30px;top:523.04px;font-size:10.5px;line-height:14.5px;letter-spacing:-0.498px;color:#5193bb;">web-browsing</span>
<span class="t" style="left:411.67px;top:523.04px;font-size:10.5px;line-height:14.5px;letter-spacing:-0.200px;color:#33363b;">11.6G</span>
<span class="t" style="left:462.81px;top:523.04px;font-size:10.5px;line-height:14.5px;letter-spacing:-0.200px;color:#33363b;">69.7k</span>
<span class="t" style="left:508.11px;top:523.04px;font-size:10.5px;line-height:14.5px;letter-spacing:-0.200px;color:#33363b;">14.7k</span>
<span class="t" style="left:564.04px;top:523.04px;font-size:10.5px;line-height:14.5px;letter-spacing:-0.200px;color:#33363b;">9.0k</span>
<span class="t" style="left:614.11px;top:523.04px;font-size:10.5px;line-height:14.5px;letter-spacing:-0.200px;color:#33363b;">27.8k</span>
<span class="t" style="left:660.57px;top:523.04px;font-size:10.5px;line-height:14.5px;letter-spacing:-0.200px;color:#33363b;">730</span>
<span class="t" style="left:710.91px;top:523.04px;font-size:10.5px;line-height:14.5px;letter-spacing:-0.200px;color:#33363b;">32</span>
<span class="t" style="left:104.30px;top:540.47px;font-size:10.5px;line-height:14.5px;letter-spacing:-0.639px;color:#5193bb;">zoom-meeting</span>
<span class="t" style="left:410.89px;top:540.47px;font-size:10.5px;line-height:14.5px;letter-spacing:-0.200px;color:#33363b;">10.8G</span>
<span class="t" style="left:476.21px;top:540.47px;font-size:10.5px;line-height:14.5px;letter-spacing:-0.200px;color:#33363b;">83</span>
<span class="t" style="left:527.16px;top:540.47px;font-size:10.5px;line-height:14.5px;letter-spacing:-0.200px;color:#33363b;">0</span>
<span class="t" style="left:577.46px;top:540.47px;font-size:10.5px;line-height:14.5px;letter-spacing:-0.200px;color:#33363b;">0</span>
<span class="t" style="left:633.16px;top:540.47px;font-size:10.5px;line-height:14.5px;letter-spacing:-0.200px;color:#33363b;">0</span>
<span class="t" style="left:666.21px;top:540.47px;font-size:10.5px;line-height:14.5px;letter-spacing:-0.200px;color:#33363b;">32</span>
<span class="t" style="left:716.56px;top:540.47px;font-size:10.5px;line-height:14.5px;letter-spacing:-0.200px;color:#33363b;">7</span>
<span class="t" style="left:104.30px;top:557.90px;font-size:10.5px;line-height:14.5px;letter-spacing:-0.530px;color:#5193bb;">paloalto-shared-services</span>
<span class="t" style="left:410.89px;top:557.90px;font-size:10.5px;line-height:14.5px;letter-spacing:-0.200px;color:#33363b;">10.7G</span>
<span class="t" style="left:470.57px;top:557.90px;font-size:10.5px;line-height:14.5px;letter-spacing:-0.200px;color:#33363b;">387</span>
<span class="t" style="left:527.16px;top:557.90px;font-size:10.5px;line-height:14.5px;letter-spacing:-0.200px;color:#33363b;">0</span>
<span class="t" style="left:571.81px;top:557.90px;font-size:10.5px;line-height:14.5px;letter-spacing:-0.200px;color:#33363b;">69</span>
<span class="t" style="left:621.87px;top:557.90px;font-size:10.5px;line-height:14.5px;letter-spacing:-0.200px;color:#33363b;">405</span>
<span class="t" style="left:666.21px;top:557.90px;font-size:10.5px;line-height:14.5px;letter-spacing:-0.200px;color:#33363b;">93</span>
<span class="t" style="left:716.56px;top:557.90px;font-size:10.5px;line-height:14.5px;letter-spacing:-0.200px;color:#33363b;">7</span>
<span class="t" style="left:104.30px;top:575.33px;font-size:10.5px;line-height:14.5px;letter-spacing:-0.672px;color:#5193bb;">ms-ds-smbv3</span>
<span class="t" style="left:416.53px;top:575.33px;font-size:10.5px;line-height:14.5px;letter-spacing:-0.200px;color:#33363b;">6.1G</span>
<span class="t" style="left:468.44px;top:575.33px;font-size:10.5px;line-height:14.5px;letter-spacing:-0.200px;color:#33363b;">2.5k</span>
<span class="t" style="left:515.87px;top:575.33px;font-size:10.5px;line-height:14.5px;letter-spacing:-0.200px;color:#33363b;">153</span>
<span class="t" style="left:564.04px;top:575.33px;font-size:10.5px;line-height:14.5px;letter-spacing:-0.200px;color:#33363b;">4.7k</span>
<span class="t" style="left:633.16px;top:575.33px;font-size:10.5px;line-height:14.5px;letter-spacing:-0.200px;color:#33363b;">0</span>
<span class="t" style="left:660.57px;top:575.33px;font-size:10.5px;line-height:14.5px;letter-spacing:-0.200px;color:#33363b;">354</span>
<span class="t" style="left:710.91px;top:575.33px;font-size:10.5px;line-height:14.5px;letter-spacing:-0.200px;color:#33363b;">10</span>
<span class="t" style="left:782.00px;top:164.00px;font-size:12px;line-height:16px;letter-spacing:-0.285px;color:#303236;">User Activity</span>
<span class="t" style="left:806.50px;top:191.40px;font-size:10px;line-height:14px;letter-spacing:-0.252px;color:#7b7e84;">bytes</span>
<span class="t" style="left:855.40px;top:191.40px;font-size:10px;line-height:14px;letter-spacing:-0.644px;color:#7b7e84;">sessions</span>
<span class="t" style="left:916.40px;top:191.40px;font-size:10px;line-height:14px;letter-spacing:-0.330px;color:#7b7e84;">threats</span>
<span class="t" style="left:971.80px;top:191.40px;font-size:10px;line-height:14px;letter-spacing:-0.169px;color:#7b7e84;">content</span>
<span class="t" style="left:1030.40px;top:191.40px;font-size:10px;line-height:14px;letter-spacing:-1.139px;color:#7b7e84;">URLs</span>
<span class="t" style="left:787.90px;top:215.05px;font-size:9.5px;line-height:13.5px;letter-spacing:-0.081px;color:#c5cbd3;">Home</span>
<span class="t" style="left:792.80px;top:237.80px;font-size:10px;line-height:14px;letter-spacing:0.354px;color:#6a6d73;">750.00G</span>
<span class="t" style="left:792.80px;top:283.20px;font-size:10px;line-height:14px;letter-spacing:0.354px;color:#6a6d73;">500.00G</span>
<span class="t" style="left:792.80px;top:328.20px;font-size:10px;line-height:14px;letter-spacing:0.354px;color:#6a6d73;">250.00G</span>
<span class="t" style="left:827.00px;top:373.50px;font-size:10px;line-height:14px;letter-spacing:0.638px;color:#6a6d73;">0</span>
<span class="t" style="left:907.80px;top:385.60px;font-size:10px;line-height:14px;letter-spacing:0.092px;color:#6a6d73;">08:01</span>
<span class="t" style="left:1057.00px;top:385.60px;font-size:10px;line-height:14px;letter-spacing:0.242px;color:#6a6d73;">08:04</span>
<span class="t" style="left:1041.00px;top:411.80px;font-size:11px;line-height:15px;letter-spacing:-0.438px;color:#2d2f33;font-weight:700;">bytes</span>
<span class="t" style="left:790.00px;top:447.80px;font-size:8px;line-height:12px;letter-spacing:0.411px;color:#74777d;font-weight:700;">SOURCE USER</span>
<span class="t" style="left:961.20px;top:447.80px;font-size:8px;line-height:12px;letter-spacing:0.741px;color:#74777d;font-weight:700;">DESTINATION USER</span>
<span class="t" style="left:790.00px;top:467.35px;font-size:10.5px;line-height:14.5px;letter-spacing:-0.970px;color:#5193bb;">None</span>
<span class="t" style="left:961.20px;top:467.35px;font-size:10.5px;line-height:14.5px;letter-spacing:-0.970px;color:#5193bb;">None</span>
<span class="t" style="left:790.00px;top:484.78px;font-size:10.5px;line-height:14.5px;letter-spacing:-0.537px;color:#5193bb;">marsha.wirth</span>
<span class="t" style="left:961.20px;top:484.78px;font-size:10.5px;line-height:14.5px;letter-spacing:-0.970px;color:#5193bb;">None</span>
<span class="t" style="left:790.00px;top:502.21px;font-size:10.5px;line-height:14.5px;letter-spacing:-0.571px;color:#5193bb;">jimmy.bowes</span>
<span class="t" style="left:961.20px;top:502.21px;font-size:10.5px;line-height:14.5px;letter-spacing:-0.970px;color:#5193bb;">None</span>
<span class="t" style="left:790.00px;top:519.64px;font-size:10.5px;line-height:14.5px;letter-spacing:-0.970px;color:#5193bb;">None</span>
<span class="t" style="left:961.20px;top:519.64px;font-size:10.5px;line-height:14.5px;letter-spacing:-0.491px;color:#5193bb;">david.poster</span>
<span class="t" style="left:790.00px;top:537.07px;font-size:10.5px;line-height:14.5px;letter-spacing:-0.454px;color:#5193bb;">patricia.enriqu</span>
<span class="t" style="left:961.20px;top:537.07px;font-size:10.5px;line-height:14.5px;letter-spacing:-0.970px;color:#5193bb;">None</span>
<span class="t" style="left:790.00px;top:554.50px;font-size:10.5px;line-height:14.5px;letter-spacing:-0.371px;color:#5193bb;">christopher.lid</span>
<span class="t" style="left:961.20px;top:554.50px;font-size:10.5px;line-height:14.5px;letter-spacing:-0.970px;color:#5193bb;">None</span>
<span class="t" style="left:790.00px;top:571.93px;font-size:10.5px;line-height:14.5px;letter-spacing:-0.970px;color:#5193bb;">None</span>
<span class="t" style="left:961.20px;top:571.93px;font-size:10.5px;line-height:14.5px;letter-spacing:-0.569px;color:#5193bb;">josephine.coste</span>
<span class="t" style="left:790.00px;top:589.36px;font-size:10.5px;line-height:14.5px;letter-spacing:1.109px;color:#5193bb;">lillian</span>
<span class="t" style="left:961.20px;top:589.36px;font-size:10.5px;line-height:14.5px;letter-spacing:-0.970px;color:#5193bb;">None</span>
<svg class="a" style="left:205.6px;top:75.2px" width="14" height="18" viewBox="0 0 14 18"><path d="M1.5 1.5 V13.2 L4.3 10.6 L6.6 15.6 L8.6 14.7 L6.4 9.9 H10.2 Z" fill="#0a0a0a" stroke="#f2f2f2" stroke-width="1.3" stroke-linejoin="round"/></svg>
</div>
</body></html>
